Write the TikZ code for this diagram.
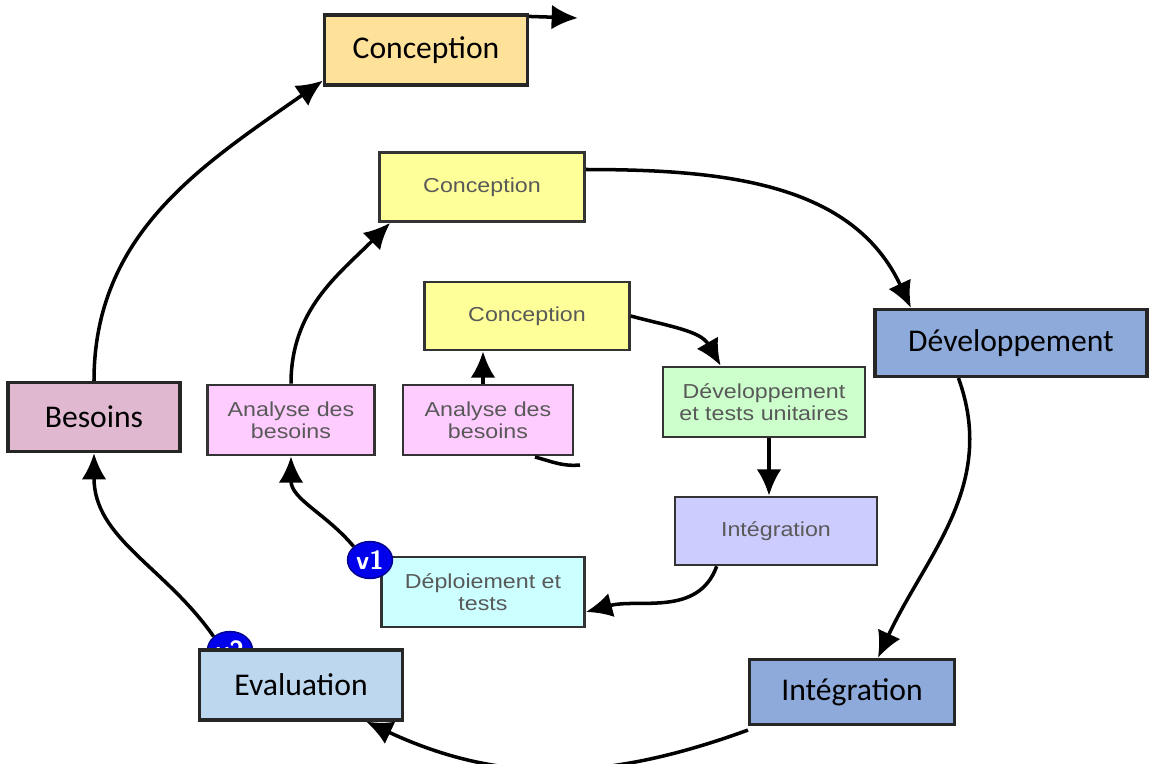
\documentclass[tikz,border=0pt]{standalone}
\usepackage{fontspec}
\setmainfont{Carlito}
\newfontfamily\smallfont[FakeStretch=1.15]{Liberation Sans}
\usetikzlibrary{arrows.meta,shapes.geometric}

\definecolor{concout}{RGB}{255,226,154}
\definecolor{devout}{RGB}{142,170,219}
\definecolor{evalout}{RGB}{189,215,238}
\definecolor{besout}{RGB}{224,185,208}
\definecolor{yellowin}{RGB}{255,255,153}
\definecolor{pinkin}{RGB}{255,204,255}
\definecolor{cyanin}{RGB}{204,255,255}
\definecolor{greenin}{RGB}{204,255,204}
\definecolor{lilacin}{RGB}{204,204,255}
\definecolor{vblue}{RGB}{0,0,235}

\begin{document}
\begin{tikzpicture}[x=0.02cm, y=-0.02cm,
	bigbox/.style={rectangle, draw=black!85, line width=1.8pt, inner sep=0pt,
		font=\fontsize{18}{20}\selectfont},
	smallbox/.style={rectangle, draw=black!80, line width=1.5pt, inner sep=0pt, align=center,
		text=black!65, font=\smallfont\fontsize{11.5}{12.5}\selectfont},
	version/.style={ellipse, fill=vblue, draw=vblue!60!black, line width=0.8pt,
		minimum width=0.9cm, minimum height=0.74cm, inner sep=0pt,
		text=white, font=\sffamily\bfseries\fontsize{15}{15}\selectfont},
	arr/.style={draw, line width=2pt, -{Latex[length=15pt, width=14pt]}},
	tail/.style={draw, line width=2pt}]
	\useasboundingbox (0,0) rectangle (1153,764);

	% outer loop
	\node[bigbox, fill=concout, minimum width=4.06cm, minimum height=1.4cm] (conc1) at (426,50) {Conception};
	\node[bigbox, fill=devout, minimum width=5.44cm, minimum height=1.34cm] (dev1) at (1011,343) {Développement};
	\node[bigbox, fill=devout, minimum width=4.1cm, minimum height=1.3cm] (integ1) at (852,692) {Intégration};
	\node[version] (v2) at (230,650) {v2};
	\node[bigbox, fill=evalout, minimum width=4.06cm, minimum height=1.4cm] (eval) at (301,685) {Evaluation};
	\node[bigbox, fill=besout, minimum width=3.44cm, minimum height=1.38cm] (bes1) at (94,417) {Besoins};

	% middle loop
	\node[smallbox, fill=yellowin, minimum width=4.1cm, minimum height=1.38cm] (conc2) at (482,187) {Conception};
	\node[smallbox, fill=pinkin, minimum width=3.34cm, minimum height=1.4cm] (ana2) at (291,420) {Analyse des\\besoins};
	\node[smallbox, fill=cyanin, minimum width=4.06cm, minimum height=1.4cm] (deploy) at (483,592) {Déploiement et\\tests};
	\node[version] (v1) at (370,560) {v1};

	% inner loop
	\node[smallbox, fill=yellowin, minimum width=4.1cm, minimum height=1.36cm] (conc3) at (527,316) {Conception};
	\node[smallbox, fill=pinkin, minimum width=3.4cm, minimum height=1.4cm] (ana3) at (488,420) {Analyse des\\besoins};
	\node[smallbox, fill=greenin, minimum width=4.04cm, minimum height=1.4cm] (devtu) at (764,402) {Développement\\et tests unitaires};
	\node[smallbox, fill=lilacin, minimum width=4.04cm, minimum height=1.36cm] (integ3) at (776,531) {Intégration};

	\coordinate (start) at (580,465);
	\coordinate (startend) at (535,457);
	\coordinate (next) at (578,18);

	\draw[tail] (start) to[out=185, in=-15] (startend);
	\draw[arr] ([xshift=-0.1cm]ana3.north) -- ([xshift=-0.1cm]ana3.north |- conc3.south);
	\draw[arr] (conc3.east) to[out=-15, in=120] ([xshift=1.18cm]devtu.north west);
	\draw[arr] ([xshift=0.1cm]devtu.south) -- ([xshift=0.1cm]devtu.south |- integ3.north);
	\draw[arr] ([xshift=0.86cm]integ3.south west) to[out=-110, in=15] ([yshift=-0.4cm]deploy.east);

	\draw[arr] (v1.north west) to[out=130, in=-90] (ana2.south);
	\draw[arr] (ana2.north) to[out=90, in=225] ([xshift=0.24cm]conc2.south west);
	\draw[arr] ([yshift=0.35cm]conc2.east) to[out=0, in=115] ([xshift=0.75cm]dev1.north west);
	\draw[arr] ([xshift=1.7cm]dev1.south west) to[out=-70, in=65] ([xshift=2.6cm]integ1.north west);
	\draw[arr] ([yshift=-0.08cm]integ1.south west) to[out=200, in=-25] ([xshift=-0.76cm]eval.south east);

	\draw[arr] (v2.north west) to[out=125, in=-90] (bes1.south);
	\draw[arr] (bes1.north) to[out=90, in=215] ([yshift=0.12cm]conc1.south west);
	\draw[arr] ([yshift=-0.06cm]conc1.north east) -- (next);
\end{tikzpicture}
\end{document}
